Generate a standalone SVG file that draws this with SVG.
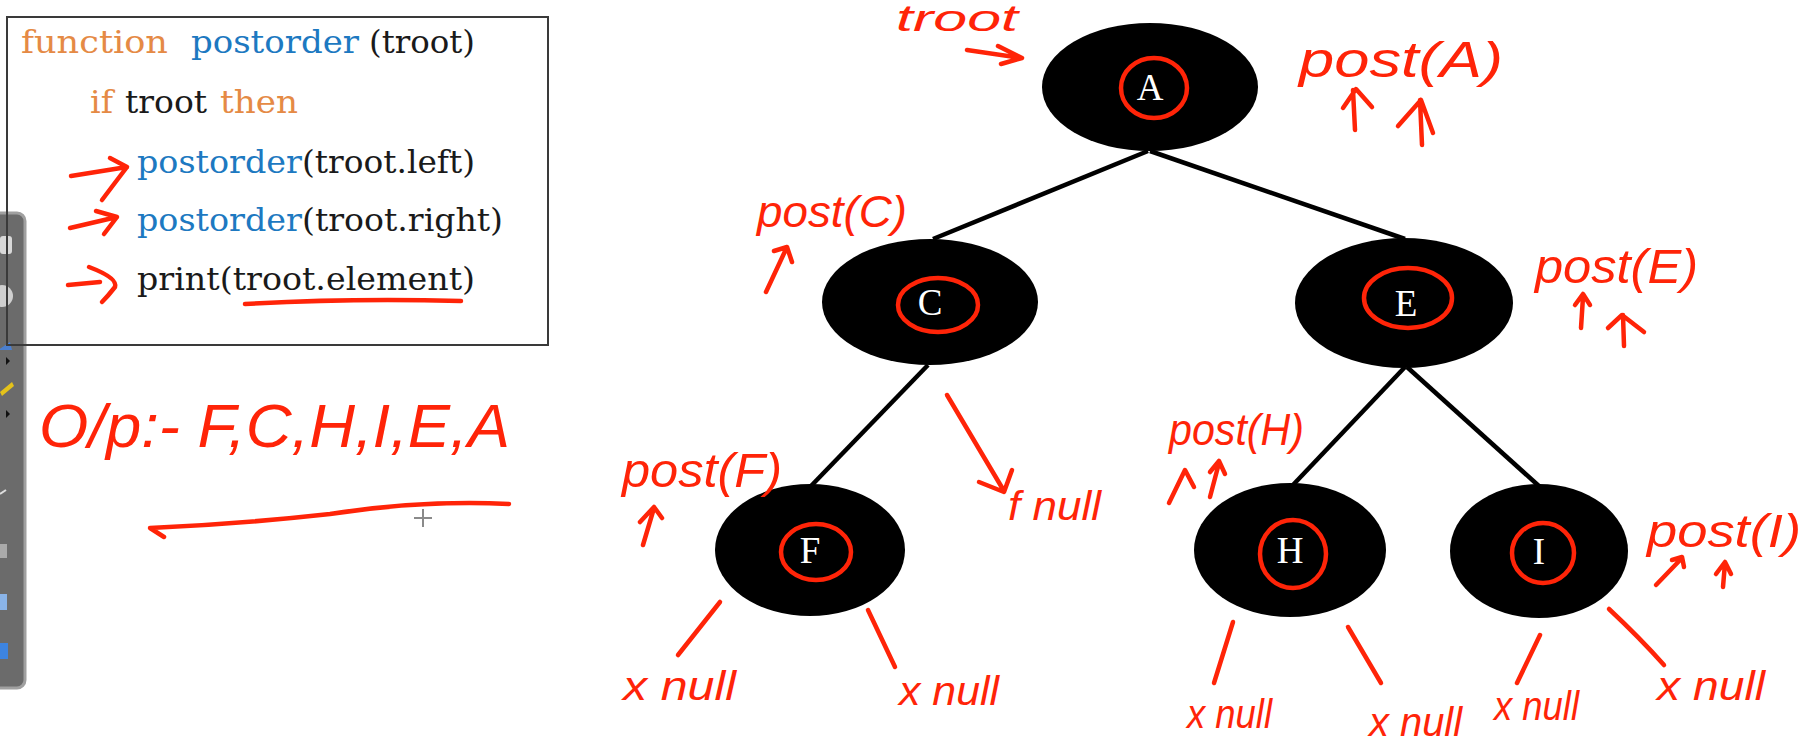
<svg xmlns="http://www.w3.org/2000/svg" width="1818" height="753" viewBox="0 0 1818 753">
<style>
.code{font-family:"DejaVu Serif","Liberation Serif",serif;font-size:31px}
.kw{fill:#e58a45}.fn{fill:#1d79c1}.tx{fill:#1a1a1a}
.node{fill:#000}
.lbl{font-family:"Liberation Serif","DejaVu Serif",serif;font-size:37px;fill:#fff;text-anchor:middle}
.edge{stroke:#000;stroke-width:4.5;fill:none}
.ink{stroke:#ff2408;stroke-width:4.5;fill:none;stroke-linecap:round;stroke-linejoin:round}
.hw{font-family:"Liberation Sans","DejaVu Sans",sans-serif;fill:#ff2408;font-style:italic}
</style>
<rect width="1818" height="753" fill="#fff"/>

<g id="toolbar">
<rect x="-12" y="213" width="37" height="475" rx="8" fill="#6b6b6b" stroke="#a0a0a0" stroke-width="3"/>
<rect x="0" y="236" width="12" height="18" rx="3" fill="#d8d8d8"/>
<circle cx="2" cy="296" r="11" fill="#cfcfcf"/>
<path d="M-2,350 L10,342 L12,350 Z" fill="#4a7fd0"/>
<path d="M6,357 L10,361 L6,365 Z" fill="#111"/>
<path d="M0,392 L12,382 L14,386 L2,396 Z" fill="#e4c21a"/>
<path d="M6,410 L10,414 L6,418 Z" fill="#111"/>
<path d="M0,494 L6,490" stroke="#ddd" stroke-width="2"/>
<rect x="0" y="544" width="7" height="14" fill="#aaa"/>
<rect x="0" y="594" width="7" height="16" fill="#8ab4e8"/>
<rect x="0" y="643" width="8" height="16" fill="#3d84e0"/>
</g>

<g id="code-box">
<rect x="7" y="17" width="541" height="328" fill="none" stroke="#3a3a3a" stroke-width="2"/>
<text class="code" y="53"><tspan class="kw" x="21" textLength="147" lengthAdjust="spacingAndGlyphs">function</tspan><tspan class="fn" x="191" textLength="168" lengthAdjust="spacingAndGlyphs">postorder</tspan><tspan class="tx" x="369" textLength="106" lengthAdjust="spacingAndGlyphs">(troot)</tspan></text>
<text class="code" y="113"><tspan class="kw" x="90" textLength="23" lengthAdjust="spacingAndGlyphs">if</tspan><tspan class="tx" x="125" textLength="82" lengthAdjust="spacingAndGlyphs">troot</tspan><tspan class="kw" x="220" textLength="78" lengthAdjust="spacingAndGlyphs">then</tspan></text>
<text class="code" y="173"><tspan class="fn" x="137" textLength="165" lengthAdjust="spacingAndGlyphs">postorder</tspan><tspan class="tx" x="302" textLength="173" lengthAdjust="spacingAndGlyphs">(troot.left)</tspan></text>
<text class="code" y="231"><tspan class="fn" x="137" textLength="165" lengthAdjust="spacingAndGlyphs">postorder</tspan><tspan class="tx" x="302" textLength="201" lengthAdjust="spacingAndGlyphs">(troot.right)</tspan></text>
<text class="code tx" x="137" y="290" textLength="338" lengthAdjust="spacingAndGlyphs">print(troot.element)</text>
<path class="ink" d="M71,176 L127,167 M110,158 L127,167 Q114,184 102,200"/>
<path class="ink" d="M70,228 L117,217 M96,211 L117,217 L104,234"/>
<path class="ink" d="M68,285 L100,282 M89,267 Q118,278 115,287 Q108,296 102,302"/>
<path class="ink" d="M245,304 Q350,298 461,301"/>
</g>

<g id="output">
<text class="hw" x="39" y="447" font-size="62" textLength="471" lengthAdjust="spacingAndGlyphs">O/p:- F,C,H,I,E,A</text>
<path class="ink" d="M509,504 Q420,500 330,514 Q240,524 150,528 L164,537"/>
<path d="M414,518 H432 M423,509 V527" stroke="#8a8a8a" stroke-width="2"/>
</g>

<g id="connectors">
<line class="edge" x1="1148" y1="151" x2="933" y2="239"/>
<line class="edge" x1="1150" y1="151" x2="1405" y2="239"/>
<line class="edge" x1="928" y1="365" x2="811" y2="486"/>
<line class="edge" x1="1405" y1="367" x2="1292" y2="486"/>
<line class="edge" x1="1407" y1="367" x2="1540" y2="487"/>
</g>

<g id="node-A">
<ellipse class="node" cx="1150" cy="87" rx="108" ry="64"/>
<text class="lbl" x="1150" y="100">A</text>
<ellipse class="ink" cx="1154" cy="88" rx="33" ry="30"/>
</g>
<g id="node-C">
<ellipse class="node" cx="930" cy="302" rx="108" ry="63"/>
<text class="lbl" x="930" y="315">C</text>
<ellipse class="ink" cx="938" cy="305" rx="40" ry="27"/>
</g>
<g id="node-E">
<ellipse class="node" cx="1404" cy="303" rx="109" ry="65"/>
<text class="lbl" x="1406" y="316">E</text>
<ellipse class="ink" cx="1408" cy="298" rx="44" ry="30"/>
</g>
<g id="node-F">
<ellipse class="node" cx="810" cy="550" rx="95" ry="66"/>
<text class="lbl" x="810" y="563">F</text>
<ellipse class="ink" cx="816" cy="552" rx="35" ry="28"/>
</g>
<g id="node-H">
<ellipse class="node" cx="1290" cy="550" rx="96" ry="67"/>
<text class="lbl" x="1290" y="563">H</text>
<ellipse class="ink" cx="1293" cy="554" rx="33" ry="34"/>
</g>
<g id="node-I">
<ellipse class="node" cx="1539" cy="551" rx="89" ry="67"/>
<text class="lbl" x="1539" y="564">I</text>
<ellipse class="ink" cx="1543" cy="553" rx="31" ry="30"/>
</g>

<g id="annotations">
<text class="hw" x="896" y="31" font-size="36" textLength="122" lengthAdjust="spacingAndGlyphs">troot</text>
<path class="ink" d="M967,50 L1022,58 M998,46 L1022,58 L1001,64"/>

<text class="hw" x="1299" y="77" font-size="50" textLength="204" lengthAdjust="spacingAndGlyphs">post(A)</text>
<path class="ink" d="M1353,90 L1355,130 M1343,108 L1356,89 L1372,107 M1398,126 L1421,100 L1433,133 M1420,100 L1422,145"/>

<text class="hw" x="757" y="227" font-size="44" textLength="150" lengthAdjust="spacingAndGlyphs">post(C)</text>
<path class="ink" d="M766,292 L787,247 M774,251 L787,247 L792,262"/>

<text class="hw" x="1535" y="283" font-size="48" textLength="163" lengthAdjust="spacingAndGlyphs">post(E)</text>
<path class="ink" d="M1583,297 L1581,328 M1575,305 L1583,294 L1590,305 M1608,328 L1622,315 L1644,332 M1623,315 L1624,346"/>

<text class="hw" x="622" y="487" font-size="48" textLength="160" lengthAdjust="spacingAndGlyphs">post(F)</text>
<path class="ink" d="M643,545 L654,508 M640,522 L654,507 L662,518"/>

<path class="ink" d="M947,395 L1004,491 M979,482 L1004,492 L1012,470"/>
<text class="hw" x="1008" y="520" font-size="40" textLength="93" lengthAdjust="spacingAndGlyphs">f null</text>

<text class="hw" x="1169" y="445" font-size="44" textLength="135" lengthAdjust="spacingAndGlyphs">post(H)</text>
<path class="ink" d="M1169,503 L1185,470 L1194,487 M1210,497 L1219,463 M1210,472 L1219,461 L1225,474"/>

<text class="hw" x="1647" y="547" font-size="46" textLength="154" lengthAdjust="spacingAndGlyphs">post(I)</text>
<path class="ink" d="M1656,585 L1682,558 M1672,560 L1682,557 L1684,567 M1723,587 L1725,563 M1716,574 L1725,562 L1731,574"/>

<path class="ink" d="M720,602 L678,655"/>
<text class="hw" x="623" y="700" font-size="40" textLength="113" lengthAdjust="spacingAndGlyphs">x null</text>
<path class="ink" d="M868,610 L895,667"/>
<text class="hw" x="899" y="705" font-size="40" textLength="100" lengthAdjust="spacingAndGlyphs">x null</text>
<path class="ink" d="M1233,622 L1214,683"/>
<text class="hw" x="1187" y="728" font-size="40" textLength="85" lengthAdjust="spacingAndGlyphs">x null</text>
<path class="ink" d="M1348,627 L1381,683"/>
<text class="hw" x="1369" y="736" font-size="40" textLength="93" lengthAdjust="spacingAndGlyphs">x null</text>
<path class="ink" d="M1540,635 L1517,683"/>
<text class="hw" x="1494" y="720" font-size="40" textLength="85" lengthAdjust="spacingAndGlyphs">x null</text>
<path class="ink" d="M1609,609 Q1640,638 1664,665"/>
<text class="hw" x="1657" y="700" font-size="40" textLength="108" lengthAdjust="spacingAndGlyphs">x null</text>
</g>
</svg>
